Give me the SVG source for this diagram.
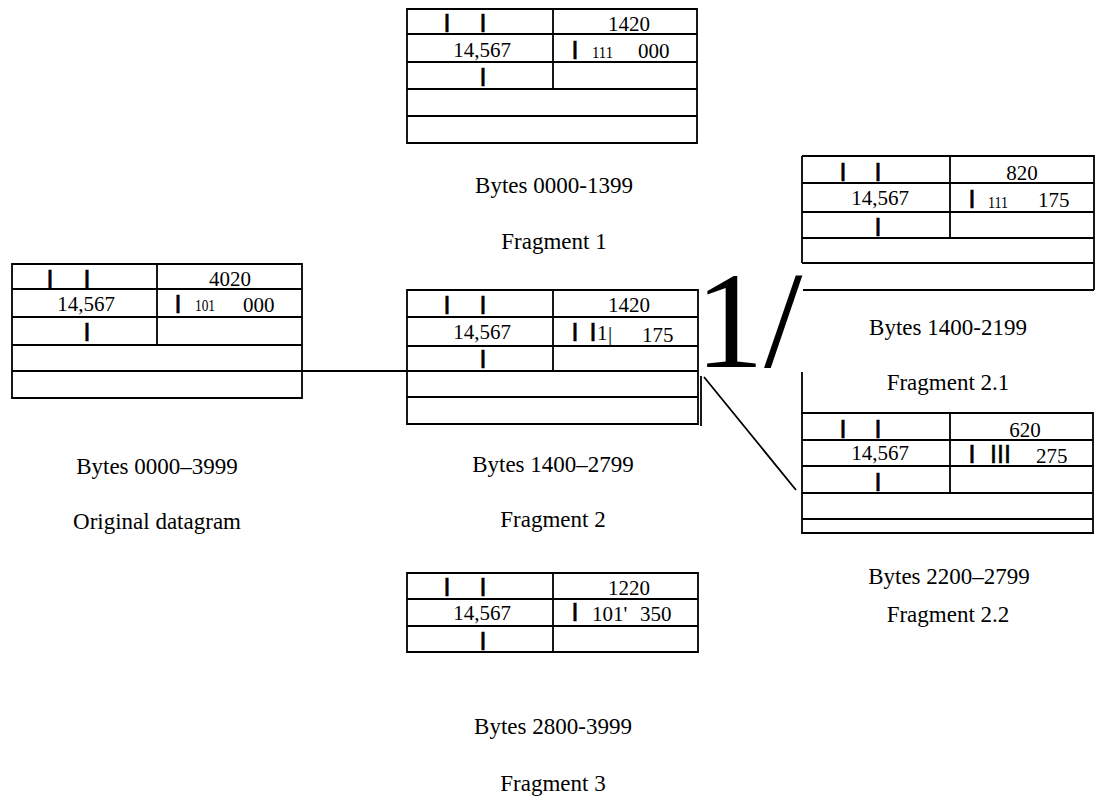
<svg xmlns="http://www.w3.org/2000/svg" width="1099" height="811" viewBox="0 0 1099 811">
<style>
.ln{stroke:#000;stroke-width:1.8;fill:none}
.t{font-family:"Liberation Serif","Times New Roman",serif;font-size:21px;fill:#000}
.m{text-anchor:middle}
.sm{font-family:"Liberation Serif","Times New Roman",serif;font-size:16px;fill:#000}
.bar{font-family:"Liberation Sans",Arial,sans-serif;font-size:25px;fill:#000;stroke:#000;stroke-width:0.7;text-anchor:middle}
.bars{font-family:"Liberation Sans",Arial,sans-serif;font-size:25px;fill:#000;stroke:#000;stroke-width:0.5}
.lbl{font-family:"Liberation Serif","Times New Roman",serif;font-size:23px;fill:#000;text-anchor:middle}
.big{font-family:"Liberation Serif","Times New Roman",serif;font-size:138px;fill:#000}
</style>
<rect width="1099" height="811" fill="#fff"/>

<g id="original">
<path class="ln" d="M12,264H302V398H12Z M12,289H302 M12,317H302 M12,345H302 M12,371H302 M157,264V345"/>
<text class="bar" x="50" y="288">I</text><text class="bar" x="87" y="288">I</text>
<text class="t m" x="230" y="286">4020</text>
<text class="t m" x="86" y="311">14,567</text>
<text class="bar" x="178" y="313">I</text>
<text class="sm" x="195" y="311" textLength="20" lengthAdjust="spacingAndGlyphs">101</text>
<text class="t" x="243" y="312">000</text>
<text class="bar" x="87" y="341">I</text>
<text class="lbl" x="157" y="474">Bytes 0000–3999</text>
<text class="lbl" x="157" y="529">Original datagram</text>
</g>

<g id="fragment1">
<path class="ln" d="M407,9H697V143H407Z M407,34H697 M407,62H697 M407,89H697 M407,116H697 M553,9V89"/>
<text class="bar" x="447" y="32">I</text><text class="bar" x="483" y="32">I</text>
<text class="t m" x="629" y="31">1420</text>
<text class="t m" x="482" y="57">14,567</text>
<text class="bar" x="575" y="59">I</text>
<text class="sm" x="592" y="58" textLength="21" lengthAdjust="spacingAndGlyphs">111</text>
<text class="t" x="638" y="58">000</text>
<text class="bar" x="483" y="86">I</text>
<text class="lbl" x="554" y="193">Bytes 0000-1399</text>
<text class="lbl" x="554" y="249">Fragment 1</text>
</g>

<g id="fragment2">
<path class="ln" d="M407,290H698V424H407Z M407,317H698 M407,346H698 M407,371H698 M407,397H698 M553,290V371"/>
<text class="bar" x="447" y="314">I</text><text class="bar" x="483" y="314">I</text>
<text class="t m" x="629" y="312">1420</text>
<text class="t m" x="482" y="339">14,567</text>
<text class="bar" x="575" y="341">I</text>
<text class="bar" x="593" y="341">I</text>
<text class="t" x="597" y="340">1</text>
<text class="t" x="608" y="341">|</text>
<text class="t" x="642" y="342">175</text>
<text class="bar" x="483" y="368">I</text>
<text class="lbl" x="553" y="472">Bytes 1400–2799</text>
<text class="lbl" x="553" y="527">Fragment 2</text>
</g>

<g id="fragment2_1">
<path class="ln" d="M802,156H1094V290 M802,156V263 M802,183H1094 M802,212H1094 M802,238H1094 M802,263H1094 M803,290H1094 M950,156V238"/>
<text class="bar" x="843" y="181">I</text><text class="bar" x="878" y="181">I</text>
<text class="t m" x="1022" y="180">820</text>
<text class="t m" x="880" y="205">14,567</text>
<text class="bar" x="972" y="208">I</text>
<text class="sm" x="988" y="208" textLength="20" lengthAdjust="spacingAndGlyphs">111</text>
<text class="t" x="1038" y="207">175</text>
<text class="bar" x="878" y="236">I</text>
<text class="lbl" x="948" y="335">Bytes 1400-2199</text>
<text class="lbl" x="948" y="390">Fragment 2.1</text>
</g>

<g id="fragment2_2">
<path class="ln" d="M802,413H1093V533H802Z M802,440H1093 M802,466H1093 M802,493H1093 M802,519H1093 M950,413V493"/>
<text class="bar" x="843" y="438">I</text><text class="bar" x="878" y="438">I</text>
<text class="t m" x="1025" y="437">620</text>
<text class="t m" x="880" y="460">14,567</text>
<text class="bar" x="972" y="463">I</text>
<text class="bars" x="990" y="463">III</text>
<text class="t" x="1036" y="463">275</text>
<text class="bar" x="878" y="491">I</text>
<text class="lbl" x="949" y="584">Bytes 2200–2799</text>
<text class="lbl" x="948" y="622">Fragment 2.2</text>
</g>

<g id="fragment3">
<path class="ln" d="M407,573H698V652H407Z M407,599H698 M407,626H698 M553,573V652"/>
<text class="bar" x="447" y="596">I</text><text class="bar" x="483" y="596">I</text>
<text class="t m" x="629" y="595">1220</text>
<text class="t m" x="482" y="620">14,567</text>
<text class="bar" x="575" y="621">I</text>
<text class="t" x="592" y="621">101'</text>
<text class="t" x="640" y="621">350</text>
<text class="bar" x="483" y="650">I</text>
<text class="lbl" x="553" y="734">Bytes 2800-3999</text>
<text class="lbl" x="553" y="791">Fragment 3</text>
</g>

<g id="connectors">
<path class="ln" d="M302,371H407 M701,376V426 M704,377L796,490 M802,372V413"/>
<text class="big" x="695" y="367">1/</text>
</g>
</svg>
